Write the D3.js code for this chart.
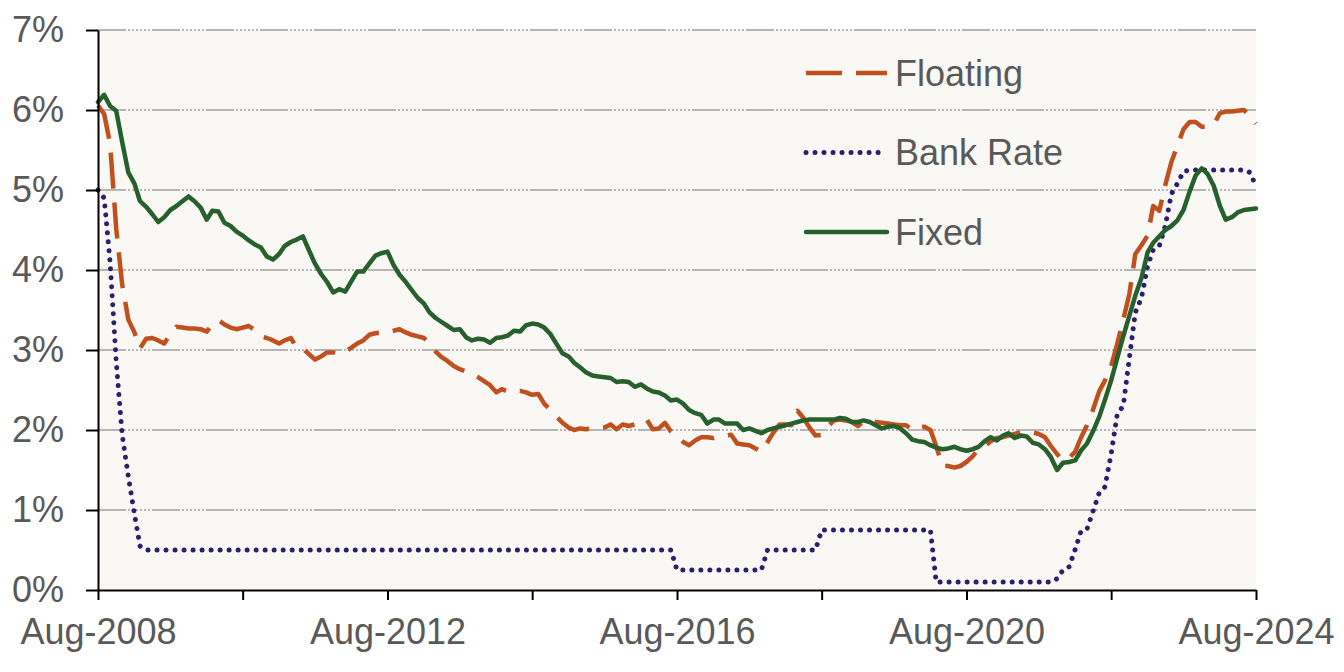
<!DOCTYPE html>
<html>
<head>
<meta charset="utf-8">
<script src="https://cdn.jsdelivr.net/npm/d3@7"></script>
<style>
  body { margin: 0; background: #fff; }
  svg text { font-family: Arial, "Liberation Sans", sans-serif; fill: #595959; }
</style>
</head>
<body>
<svg id="chart"></svg>
<script>
// monthly rates in %, Aug-2008 .. Aug-2024 (one row per year, starting in August)
const floating = [
  6.06,5.95,5.58,4.52,3.82,3.38,3.22,3.02,3.14,3.15,3.12,3.08,
  3.20,3.29,3.28,3.27,3.27,3.26,3.23,3.32,3.37,3.32,3.28,3.26,
  3.28,3.30,3.25,3.17,3.15,3.12,3.08,3.12,3.15,3.03,3.02,2.95,
  2.88,2.92,2.97,2.97,2.95,2.98,3.03,3.08,3.12,3.19,3.21,3.22,
  3.22,3.24,3.26,3.22,3.19,3.17,3.15,3.08,2.98,2.91,2.86,2.80,
  2.76,2.73,2.70,2.66,2.61,2.56,2.47,2.51,2.48,2.48,2.49,2.47,
  2.44,2.45,2.33,2.25,2.17,2.09,2.03,2.00,2.02,2.01,2.02,2.03,
  2.03,2.07,2.01,2.07,2.05,2.07,2.09,2.13,2.01,2.02,2.09,1.98,
  1.91,1.85,1.81,1.87,1.91,1.91,1.90,1.92,1.93,1.94,1.83,1.82,
  1.81,1.77,1.73,1.85,1.97,2.07,2.07,2.06,2.24,2.15,2.03,1.93,
  1.94,2.04,2.12,2.13,2.12,2.10,2.05,2.11,2.12,2.10,2.09,2.08,
  2.07,2.06,2.06,2.00,2.03,2.04,2.00,1.80,1.55,1.55,1.53,1.55,
  1.60,1.67,1.76,1.80,1.86,1.90,1.91,1.93,1.95,1.97,1.98,1.97,
  1.95,1.91,1.80,1.70,1.62,1.65,1.73,1.90,2.06,2.25,2.48,2.62,
  2.80,3.08,3.38,3.70,4.20,4.31,4.43,4.80,4.74,5.06,5.35,5.55,
  5.76,5.85,5.85,5.79,5.79,5.82,5.96,5.98,5.98,5.99,6.00,5.93,
  5.83
];

const bankRate = [
  5.00,4.90,4.10,2.85,1.94,1.42,0.95,0.55,0.50,0.50,0.50,0.50,
  0.50,0.50,0.50,0.50,0.50,0.50,0.50,0.50,0.50,0.50,0.50,0.50,
  0.50,0.50,0.50,0.50,0.50,0.50,0.50,0.50,0.50,0.50,0.50,0.50,
  0.50,0.50,0.50,0.50,0.50,0.50,0.50,0.50,0.50,0.50,0.50,0.50,
  0.50,0.50,0.50,0.50,0.50,0.50,0.50,0.50,0.50,0.50,0.50,0.50,
  0.50,0.50,0.50,0.50,0.50,0.50,0.50,0.50,0.50,0.50,0.50,0.50,
  0.50,0.50,0.50,0.50,0.50,0.50,0.50,0.50,0.50,0.50,0.50,0.50,
  0.50,0.50,0.50,0.50,0.50,0.50,0.50,0.50,0.50,0.50,0.50,0.50,
  0.25,0.25,0.25,0.25,0.25,0.25,0.25,0.25,0.25,0.25,0.25,0.25,
  0.25,0.25,0.25,0.50,0.50,0.50,0.50,0.50,0.50,0.50,0.50,0.50,
  0.75,0.75,0.75,0.75,0.75,0.75,0.75,0.75,0.75,0.75,0.75,0.75,
  0.75,0.75,0.75,0.75,0.75,0.75,0.75,0.10,0.10,0.10,0.10,0.10,
  0.10,0.10,0.10,0.10,0.10,0.10,0.10,0.10,0.10,0.10,0.10,0.10,
  0.10,0.10,0.10,0.14,0.25,0.29,0.51,0.73,0.76,0.98,1.21,1.29,
  1.70,2.20,2.30,2.90,3.47,3.65,4.05,4.25,4.30,4.55,4.95,5.08,
  5.23,5.25,5.25,5.25,5.25,5.25,5.25,5.25,5.25,5.25,5.25,5.22,
  5.05
];

const fixed = [
  6.10,6.19,6.05,5.99,5.60,5.22,5.08,4.86,4.79,4.70,4.60,4.66,
  4.75,4.80,4.86,4.92,4.86,4.78,4.63,4.74,4.73,4.59,4.55,4.48,
  4.43,4.37,4.32,4.28,4.17,4.13,4.20,4.30,4.35,4.38,4.42,4.25,
  4.08,3.95,3.85,3.72,3.76,3.73,3.86,3.98,3.98,4.08,4.18,4.21,
  4.23,4.06,3.94,3.85,3.75,3.65,3.58,3.47,3.40,3.35,3.30,3.25,
  3.26,3.16,3.12,3.14,3.13,3.09,3.15,3.16,3.18,3.24,3.23,3.31,
  3.33,3.32,3.28,3.20,3.08,2.96,2.92,2.84,2.78,2.72,2.68,2.67,
  2.66,2.65,2.60,2.61,2.60,2.54,2.57,2.52,2.48,2.47,2.43,2.37,
  2.38,2.33,2.25,2.21,2.19,2.08,2.13,2.13,2.08,2.08,2.08,2.00,
  2.02,1.99,1.96,2.00,2.02,2.04,2.06,2.08,2.10,2.12,2.13,2.13,
  2.13,2.13,2.13,2.15,2.14,2.10,2.10,2.12,2.10,2.06,2.02,2.04,
  2.05,2.02,1.96,1.88,1.86,1.85,1.81,1.78,1.76,1.77,1.79,1.76,
  1.74,1.76,1.79,1.86,1.91,1.87,1.93,1.96,1.90,1.93,1.92,1.84,
  1.82,1.76,1.66,1.50,1.59,1.60,1.62,1.74,1.83,1.98,2.16,2.38,
  2.62,2.90,3.17,3.43,3.68,3.90,4.22,4.34,4.42,4.50,4.55,4.62,
  4.75,4.98,5.18,5.27,5.20,5.05,4.80,4.63,4.66,4.72,4.75,4.76,
  4.77
];

const yTicks = [0, 1, 2, 3, 4, 5, 6, 7];
const tickYears = [2008, 2010, 2012, 2014, 2016, 2018, 2020, 2022, 2024];
const labelYears = [2008, 2012, 2016, 2020, 2024];

const startMonth = new Date(2008, 7, 1);
const months = fixed.map((d, i) => d3.timeMonth.offset(startMonth, i));

const series = [
  { name: "Floating", values: floating, color: "#c1501f", width: 4.5, dash: "36 14", cap: "butt" },
  { name: "Bank Rate", values: bankRate, color: "#2a1f6e", width: 5, dash: "0.01 9", cap: "round" },
  { name: "Fixed", values: fixed, color: "#27602c", width: 4.5, dash: null, cap: "round" }
];

const width = 1344, height = 672;
const margin = { top: 30, right: 88, bottom: 82, left: 98 };

const svg = d3.select("#chart")
  .attr("width", width)
  .attr("height", height);

const x = d3.scaleTime()
  .domain([startMonth, new Date(2024, 7, 1)])
  .range([margin.left, width - margin.right]);

const y = d3.scaleLinear()
  .domain([0, 7])
  .range([height - margin.bottom, margin.top]);

// plot background
svg.append("rect")
  .attr("x", margin.left)
  .attr("y", margin.top)
  .attr("width", width - margin.left - margin.right)
  .attr("height", height - margin.top - margin.bottom)
  .attr("fill", "#f9f8f5");

// gridlines
svg.append("g")
  .selectAll("line")
  .data(yTicks.slice(1))
  .enter()
  .append("line")
  .attr("x1", margin.left)
  .attr("x2", width - margin.right)
  .attr("y1", d => y(d))
  .attr("y2", d => y(d))
  .attr("stroke", "#b6b6b6")
  .attr("stroke-width", 2)
  .attr("stroke-dasharray", "28 2 2 2 2 2 2 2 2 2 2 2 2 2");

// lines
const line = d3.line()
  .x((d, i) => x(months[i]))
  .y(d => y(d));

svg.append("g")
  .selectAll("path")
  .data(series)
  .enter()
  .append("path")
  .attr("d", d => line(d.values))
  .attr("fill", "none")
  .attr("stroke", d => d.color)
  .attr("stroke-width", d => d.width)
  .attr("stroke-dasharray", d => d.dash)
  .attr("stroke-linecap", d => d.cap)
  .attr("stroke-linejoin", "round");

// axes
const yAxis = d3.axisLeft(y)
  .tickValues(yTicks)
  .tickFormat(d => d + "%")
  .tickSize(12)
  .tickSizeOuter(0)
  .tickPadding(22);

const xAxis = d3.axisBottom(x)
  .tickValues(tickYears.map(yr => new Date(yr, 7, 1)))
  .tickFormat(d => labelYears.includes(d.getFullYear()) ? "Aug-" + d.getFullYear() : "")
  .tickSize(10)
  .tickSizeOuter(0)
  .tickPadding(18);

const gy = svg.append("g")
  .attr("transform", `translate(${margin.left},0)`)
  .call(yAxis);

const gx = svg.append("g")
  .attr("transform", `translate(0,${height - margin.bottom})`)
  .call(xAxis);

[gx, gy].forEach(g => {
  g.selectAll("path, line").attr("stroke", "#000").attr("stroke-width", 2);
  g.selectAll("text").attr("font-size", 36).attr("fill", "#595959")
    .style("font-family", 'Arial, "Liberation Sans", sans-serif');
});

// legend
const legendY = [73, 152.5, 232];
const legend = svg.append("g")
  .selectAll("g")
  .data(series)
  .enter()
  .append("g")
  .attr("transform", (d, i) => `translate(0,${legendY[i]})`);

legend.append("line")
  .attr("x1", 806)
  .attr("x2", 887)
  .attr("stroke", d => d.color)
  .attr("stroke-width", d => d.width)
  .attr("stroke-dasharray", d => d.dash)
  .attr("stroke-linecap", d => d.cap);

legend.append("text")
  .attr("x", 895)
  .attr("dy", "0.35em")
  .attr("font-size", 36)
  .text(d => d.name);
</script>
</body>
</html>
